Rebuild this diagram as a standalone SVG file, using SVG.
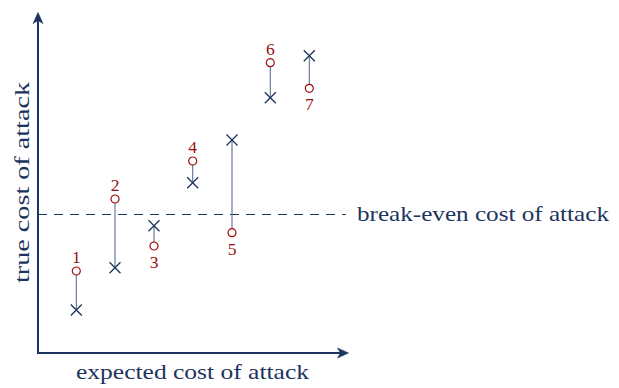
<svg xmlns="http://www.w3.org/2000/svg" width="619" height="388" viewBox="0 0 619 388">
  <style>
    .axis { stroke: #1c355e; stroke-width: 2; fill: none; }
    .head { fill: #1c355e; stroke: #1c355e; stroke-width: 0.6; stroke-linejoin: round; }
    .dash { stroke: #1c355e; stroke-width: 1.2; stroke-dasharray: 9 7; fill: none; }
    .link { stroke: #5d6f92; stroke-width: 1.1; }
    .cross { stroke: #1c355e; stroke-width: 1.3; fill: none; }
    .circ { stroke: #a00d0d; stroke-width: 1.2; fill: #ffffff; }
    .lbl { font-family: "Liberation Serif", "DejaVu Serif", serif; fill: #1c355e; font-size: 21px; }
    .num { font-family: "Liberation Serif", "DejaVu Serif", serif; fill: #9a0f0f; font-size: 17.5px; text-anchor: middle; }
  </style>
  <defs>
    <path id="x" class="cross" d="M-5.5,-5.5 L5.5,5.5 M-5.5,5.5 L5.5,-5.5"/>
    <circle id="o" class="circ" r="4"/>
  </defs>

  <rect width="619" height="388" fill="#ffffff"/>

  <!-- axes with stealth heads -->
  <g id="axes">
    <path class="axis" d="M38,353 L38,20"/>
    <path class="axis" d="M37,353 L341,353"/>
    <path class="head" d="M38,12.5 L43,23.5 L38,20.5 L33,23.5 Z"/>
    <path class="head" d="M348.5,353 L337.5,358 L340.5,353 L337.5,348 Z"/>
  </g>

  <!-- break-even threshold -->
  <g id="threshold">
    <path class="dash" d="M38,214.5 L346,214.5"/>
    <text class="lbl" x="357" y="221" textLength="252" lengthAdjust="spacingAndGlyphs">break-even cost of attack</text>
  </g>

  <!-- axis titles -->
  <text class="lbl" x="76" y="379" textLength="233" lengthAdjust="spacingAndGlyphs">expected cost of attack</text>
  <text class="lbl" transform="translate(29,283) rotate(-90)" x="0" y="0" textLength="201" lengthAdjust="spacingAndGlyphs">true cost of attack</text>

  <!-- connectors between expected and true cost -->
  <g id="connectors">
    <line class="link" x1="76.3" y1="271" x2="76.3" y2="310"/>
    <line class="link" x1="115" y1="199" x2="115" y2="267.7"/>
    <line class="link" x1="154" y1="225.7" x2="154" y2="246"/>
    <line class="link" x1="192.7" y1="161" x2="192.7" y2="182.7"/>
    <line class="link" x1="232" y1="140" x2="232" y2="232.7"/>
    <line class="link" x1="270.3" y1="62.7" x2="270.3" y2="97.7"/>
    <line class="link" x1="309.3" y1="55.7" x2="309.3" y2="88.3"/>
  </g>

  <g id="p1">
    <use href="#x" x="76.3" y="310"/>
    <use href="#o" x="76.3" y="271"/>
    <text class="num" x="76.3" y="263">1</text>
  </g>
  <g id="p2">
    <use href="#x" x="115" y="267.7"/>
    <use href="#o" x="115" y="199"/>
    <text class="num" x="115" y="191">2</text>
  </g>
  <g id="p3">
    <use href="#x" x="154" y="225.7"/>
    <use href="#o" x="154" y="246"/>
    <text class="num" x="154" y="268">3</text>
  </g>
  <g id="p4">
    <use href="#x" x="192.7" y="182.7"/>
    <use href="#o" x="192.7" y="161"/>
    <text class="num" x="192.7" y="153">4</text>
  </g>
  <g id="p5">
    <use href="#x" x="232" y="140"/>
    <use href="#o" x="232" y="232.7"/>
    <text class="num" x="232" y="254.5">5</text>
  </g>
  <g id="p6">
    <use href="#x" x="270.3" y="97.7"/>
    <use href="#o" x="270.3" y="62.7"/>
    <text class="num" x="270.3" y="55">6</text>
  </g>
  <g id="p7">
    <use href="#x" x="309.3" y="55.7"/>
    <use href="#o" x="309.3" y="88.3"/>
    <text class="num" x="309.3" y="110">7</text>
  </g>
</svg>
